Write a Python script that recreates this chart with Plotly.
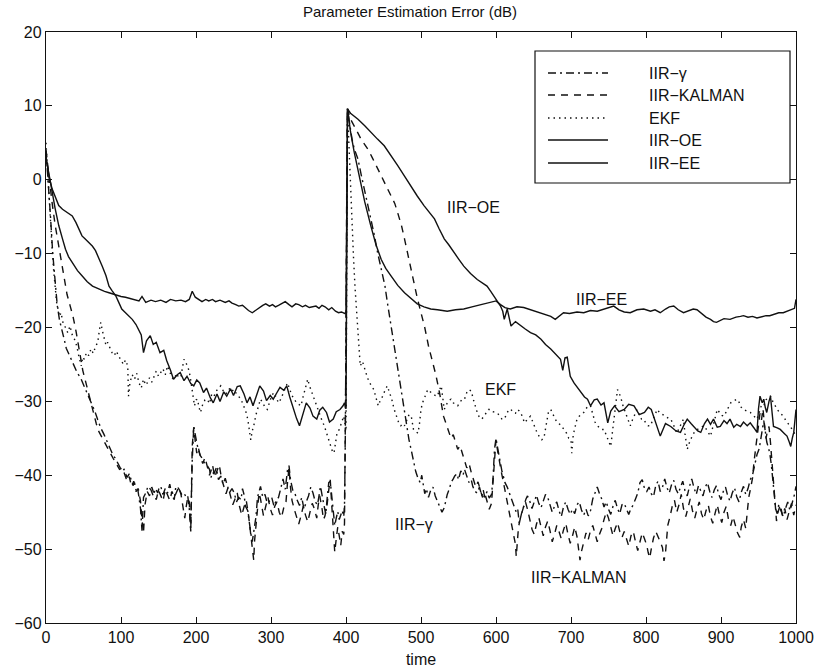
import plotly.graph_objects as go

# ---------------------------------------------------------------------------
# Parameter estimation error (dB) versus time for five adaptive IIR schemes.
# Each series is a list of (time, error_dB) samples.
# ---------------------------------------------------------------------------

iir_gamma = [
    (0, 4.0), (3, 0.0), (6, -5.0), (9, -10.0), (12, -14.0), (15, -17.0), (18, -19.0), (21, -20.5),
    (24, -21.5), (27, -22.8), (30, -23.5), (34, -24.5), (38, -25.5), (42, -26.2), (46, -26.8),
    (49, -27.5), (53, -28.6), (57, -29.5), (61, -30.4), (65, -31.3), (69, -32.5), (73, -33.6),
    (77, -34.4), (81, -35.3), (85, -36.4), (89, -37.2), (93, -37.8), (97, -38.6), (101, -39.4),
    (104, -39.2), (108, -40.3), (111, -39.8), (113, -40.6), (116, -41.4), (118, -41.0), (120, -42.0),
    (122, -41.6), (124, -43.3), (126, -44.5), (128, -47.5), (130, -43.0), (133, -42.4), (136, -41.5),
    (140, -42.0), (143, -42.8), (146, -41.8), (149, -42.4), (151, -41.6), (153, -41.5), (156, -42.6),
    (159, -41.8), (162, -42.4), (165, -41.2), (168, -42.7), (171, -43.3), (173, -41.6), (175, -41.5),
    (178, -42.0), (181, -42.6), (184, -42.4), (187, -43.0), (189, -42.8), (191, -44.5), (193, -47.4),
    (195, -38.0), (197, -33.4), (199, -34.8), (201, -35.6), (203, -36.5), (206, -37.4), (209, -37.8),
    (212, -38.5), (215, -38.7), (218, -39.2), (220, -40.3), (222, -39.6), (224, -39.8), (227, -39.0),
    (230, -40.6), (233, -40.1), (236, -41.2), (239, -40.4), (242, -41.5), (245, -42.3), (248, -41.8),
    (251, -42.4), (254, -43.6), (257, -43.0), (260, -43.3), (262, -41.8), (264, -42.6), (266, -44.2),
    (269, -44.8), (271, -46.5), (273, -47.8), (275, -49.0), (277, -47.4), (280, -45.6), (282, -43.0),
    (284, -42.0), (286, -41.5), (289, -43.0), (292, -42.6), (295, -43.8), (298, -43.5), (301, -43.0),
    (304, -44.2), (307, -43.4), (310, -43.0), (313, -41.8), (316, -40.5), (319, -41.9), (322, -39.3),
    (324, -38.7), (326, -40.6), (329, -42.0), (332, -42.5), (335, -43.4), (338, -44.1), (341, -43.0),
    (344, -44.6), (347, -43.6), (350, -42.8), (353, -41.6), (356, -42.4), (359, -43.6), (362, -44.0),
    (364, -42.8), (366, -41.5), (369, -43.2), (371, -44.4), (373, -45.3), (375, -43.0), (377, -41.0),
    (379, -40.8), (381, -43.0), (383, -45.6), (385, -46.8), (387, -45.8), (389, -44.9), (391, -46.0),
    (393, -45.2), (395, -44.8), (397, -45.6), (398, -44.0), (399, -36.0), (400, -20.0), (401, 0.0),
    (402, 9.6), (405, 7.5), (408, 5.5), (411, 4.2), (414, 3.4), (416, 2.8), (420, 0.8), (425, -1.5),
    (430, -3.6), (434, -5.3), (438, -7.6), (442, -9.8), (446, -11.6), (449, -13.0), (452, -14.4),
    (455, -16.5), (458, -18.5), (461, -20.4), (463, -21.6), (466, -23.5), (469, -25.5), (472, -27.6),
    (475, -29.5), (478, -31.3), (481, -33.4), (484, -35.2), (487, -36.6), (490, -38.0), (493, -39.5),
    (496, -40.4), (499, -41.0), (501, -40.0), (503, -41.2), (505, -42.5), (507, -41.8), (510, -43.0),
    (513, -42.0), (516, -41.6), (519, -42.8), (522, -43.6), (525, -44.2), (528, -45.0), (531, -44.4),
    (533, -43.5), (535, -42.6), (538, -41.8), (540, -41.0), (543, -40.5), (545, -40.1), (548, -39.8),
    (550, -40.6), (553, -39.4), (556, -40.0), (558, -39.2), (561, -40.2), (564, -41.0), (567, -40.6),
    (569, -41.5), (572, -42.2), (575, -42.4), (578, -41.6), (581, -42.8), (583, -42.0), (585, -43.0),
    (588, -42.2), (591, -43.1), (594, -42.6), (596, -40.5), (598, -36.5), (600, -35.0), (602, -36.2),
    (604, -37.4), (606, -38.2), (608, -39.5), (610, -40.2), (612, -41.0), (615, -41.6), (618, -42.4),
    (621, -43.4), (624, -44.2), (627, -45.0), (629, -44.6), (631, -46.5), (634, -45.2), (637, -44.0),
    (640, -43.2), (642, -42.8), (645, -43.5), (648, -44.5), (651, -43.6), (654, -42.7), (657, -43.8),
    (660, -44.4), (663, -43.5), (666, -42.6), (669, -43.0), (672, -44.0), (675, -45.0), (678, -44.2),
    (681, -43.6), (684, -44.8), (687, -45.6), (690, -44.3), (693, -43.6), (696, -44.6), (699, -45.3),
    (702, -44.6), (705, -45.2), (708, -44.0), (711, -43.6), (714, -44.7), (717, -45.4), (720, -44.6),
    (723, -45.5), (726, -44.8), (729, -43.2), (732, -42.4), (735, -41.6), (738, -42.5), (741, -43.2),
    (744, -44.3), (747, -43.6), (750, -44.6), (753, -45.3), (756, -44.2), (759, -43.4), (762, -44.5),
    (765, -45.2), (768, -44.0), (771, -43.8), (774, -44.6), (777, -45.3), (780, -44.5), (783, -44.0),
    (786, -43.2), (789, -42.4), (792, -41.0), (795, -40.6), (798, -41.8), (801, -42.2), (804, -41.6),
    (807, -42.5), (810, -42.9), (813, -41.4), (816, -40.8), (819, -42.2), (822, -41.6), (825, -40.5),
    (828, -41.7), (831, -42.4), (834, -41.3), (837, -40.7), (840, -41.9), (843, -42.5), (846, -41.6),
    (849, -40.8), (852, -42.1), (855, -42.8), (858, -41.5), (861, -40.5), (864, -41.7), (867, -42.6),
    (870, -41.4), (873, -42.0), (876, -42.8), (879, -41.6), (882, -41.0), (885, -42.2), (888, -43.0),
    (891, -42.0), (894, -41.4), (897, -42.6), (900, -43.3), (903, -42.2), (906, -41.6), (909, -42.8),
    (912, -43.5), (915, -42.4), (918, -41.7), (921, -42.9), (924, -43.6), (927, -42.3), (930, -41.5),
    (933, -42.6), (936, -41.8), (939, -40.6), (942, -40.0), (945, -38.6), (948, -37.2), (951, -36.4),
    (953, -35.0), (955, -33.5), (957, -32.6), (959, -34.0), (961, -35.5), (963, -36.2), (965, -37.0),
    (967, -38.5), (969, -40.5), (971, -43.0), (973, -44.6), (975, -45.2), (977, -44.0), (980, -44.8),
    (983, -45.6), (986, -44.5), (989, -43.6), (992, -44.8), (995, -43.8), (998, -42.6), (1000, -41.5),
]

iir_kalman = [
    (0, 4.0), (4, 0.0), (8, -3.0), (12, -6.0), (16, -8.5), (20, -11.0), (24, -13.5), (28, -15.5),
    (32, -17.0), (36, -18.5), (40, -20.5), (43, -22.5), (46, -24.0), (49, -25.8), (52, -27.0),
    (55, -28.6), (58, -29.8), (61, -31.0), (64, -32.0), (67, -33.0), (70, -34.0), (74, -34.8),
    (78, -35.6), (82, -36.2), (86, -37.0), (90, -37.8), (94, -38.5), (98, -39.2), (102, -39.0),
    (105, -40.0), (108, -40.8), (111, -40.2), (114, -41.5), (117, -40.8), (120, -42.2), (123, -41.8),
    (126, -43.5), (128, -46.0), (130, -47.8), (132, -44.0), (135, -42.2), (138, -42.8), (141, -41.6),
    (144, -42.5), (147, -43.3), (150, -42.0), (153, -42.8), (156, -43.5), (159, -41.9), (162, -42.7),
    (165, -43.4), (168, -42.2), (171, -43.0), (174, -42.3), (177, -41.6), (180, -42.6), (183, -44.6),
    (185, -45.8), (187, -44.2), (189, -43.0), (191, -43.6), (193, -47.6), (195, -36.0), (197, -33.5),
    (199, -35.4), (201, -37.0), (203, -36.2), (206, -37.6), (209, -38.4), (212, -37.6), (215, -38.8),
    (218, -40.0), (220, -39.4), (222, -38.6), (225, -40.2), (228, -39.3), (231, -38.6), (234, -40.4),
    (237, -41.4), (240, -42.5), (243, -41.6), (246, -43.0), (249, -44.0), (252, -43.2), (255, -42.4),
    (258, -44.2), (261, -45.4), (264, -44.3), (267, -43.4), (270, -45.4), (272, -47.0), (274, -48.5),
    (276, -50.2), (277, -51.5), (278, -49.0), (280, -46.4), (282, -44.0), (284, -42.4), (286, -43.2),
    (288, -44.6), (290, -45.5), (293, -44.2), (296, -43.0), (299, -44.5), (302, -45.4), (305, -44.2),
    (308, -43.6), (311, -45.0), (314, -45.7), (317, -44.4), (320, -43.6), (322, -41.0), (324, -39.0),
    (326, -41.6), (328, -43.4), (331, -44.6), (334, -45.8), (337, -46.6), (340, -45.5), (343, -44.2),
    (346, -45.4), (349, -46.3), (352, -45.0), (355, -43.8), (358, -44.6), (361, -45.8), (363, -44.0),
    (365, -42.8), (368, -44.5), (370, -46.0), (372, -45.5), (375, -43.8), (377, -42.0), (379, -40.6),
    (381, -44.0), (383, -48.0), (385, -50.4), (387, -48.6), (389, -47.0), (391, -48.2), (393, -49.5),
    (395, -47.6), (397, -48.0), (398, -46.5), (399, -38.0), (400, -22.0), (401, 0.0), (402, 9.6),
    (406, 8.2), (410, 7.5), (415, 6.5), (420, 5.5), (425, 4.7), (430, 4.0), (435, 3.0), (440, 2.0),
    (445, 1.0), (450, 0.0), (455, -1.0), (460, -2.0), (465, -3.2), (469, -4.5), (474, -6.2),
    (478, -8.0), (482, -10.0), (486, -12.0), (490, -14.0), (495, -16.0), (500, -18.0), (505, -20.0),
    (510, -22.5), (515, -24.5), (520, -26.5), (525, -29.0), (530, -32.0), (535, -33.5), (540, -35.0),
    (543, -34.5), (546, -35.5), (549, -36.5), (552, -36.0), (555, -37.2), (558, -38.0), (561, -39.0),
    (564, -38.4), (567, -39.6), (570, -40.8), (573, -41.6), (576, -40.9), (579, -42.0), (582, -43.0),
    (585, -42.4), (588, -43.5), (591, -44.6), (594, -43.8), (596, -41.0), (598, -37.5), (600, -35.2),
    (602, -36.6), (604, -38.0), (607, -39.5), (610, -41.0), (613, -42.5), (616, -44.0), (619, -45.6),
    (622, -47.0), (624, -48.2), (626, -49.4), (627, -51.0), (628, -49.0), (630, -47.0), (633, -45.6),
    (636, -44.4), (639, -43.5), (642, -44.6), (645, -46.0), (648, -47.3), (651, -48.0), (654, -46.6),
    (657, -45.7), (660, -47.0), (663, -48.2), (666, -47.0), (669, -46.2), (672, -47.5), (675, -49.0),
    (678, -48.0), (681, -46.8), (684, -47.6), (687, -48.6), (690, -47.4), (693, -46.5), (696, -48.0),
    (699, -49.2), (702, -48.2), (705, -47.0), (708, -48.3), (710, -50.2), (712, -51.5), (714, -50.3),
    (717, -48.8), (720, -47.8), (723, -48.7), (726, -47.5), (729, -46.8), (732, -48.0), (735, -49.0),
    (738, -48.0), (741, -47.2), (744, -46.0), (747, -45.0), (750, -45.8), (753, -47.0), (756, -48.2),
    (759, -47.2), (762, -46.4), (765, -47.6), (768, -48.4), (771, -47.6), (774, -48.8), (777, -49.6),
    (780, -48.2), (783, -47.6), (786, -49.0), (789, -50.2), (792, -49.0), (795, -47.8), (798, -48.6),
    (801, -49.5), (803, -50.5), (805, -51.2), (807, -50.0), (810, -48.5), (813, -47.6), (816, -48.2),
    (819, -49.0), (822, -49.8), (824, -51.6), (826, -50.5), (829, -46.8), (832, -45.6), (835, -44.2),
    (838, -43.4), (841, -45.0), (844, -44.0), (847, -42.6), (850, -44.5), (853, -45.6), (856, -44.4),
    (859, -43.2), (862, -44.8), (865, -45.8), (868, -44.6), (871, -43.6), (874, -45.2), (877, -46.0),
    (880, -44.8), (883, -44.0), (886, -45.6), (889, -46.5), (892, -45.2), (895, -44.0), (898, -45.4),
    (901, -46.4), (904, -45.0), (907, -44.2), (910, -46.0), (913, -46.8), (916, -45.6), (919, -46.6),
    (922, -47.8), (925, -48.4), (927, -47.0), (930, -46.0), (933, -47.2), (935, -45.0), (937, -43.0),
    (940, -41.5), (942, -40.4), (944, -38.2), (946, -36.5), (948, -35.2), (950, -33.0), (952, -31.6),
    (954, -32.5), (956, -31.0), (958, -33.2), (960, -35.0), (962, -34.0), (964, -33.4), (966, -35.6),
    (968, -38.0), (970, -41.5), (972, -44.0), (974, -46.2), (976, -45.0), (979, -44.0), (982, -45.5),
    (985, -44.5), (988, -46.0), (991, -45.0), (994, -43.8), (997, -45.4), (1000, -44.0),
]

ekf = [
    (0, 5.0), (2, 1.0), (4, -3.0), (6, -6.0), (8, -9.0), (10, -12.0), (12, -14.5), (14, -16.5),
    (16, -17.5), (18, -18.5), (20, -18.0), (23, -19.5), (26, -20.0), (29, -20.7), (32, -19.8),
    (35, -21.0), (38, -21.6), (41, -22.5), (44, -24.0), (47, -25.2), (49, -24.0), (51, -24.3),
    (54, -23.4), (57, -23.8), (60, -22.9), (63, -23.5), (66, -22.6), (69, -22.0), (71, -20.5),
    (73, -19.3), (76, -20.8), (78, -21.6), (80, -22.4), (82, -22.0), (85, -22.8), (88, -23.4),
    (91, -23.8), (94, -23.2), (97, -24.0), (100, -24.3), (103, -25.0), (106, -24.4), (109, -25.2),
    (110, -29.3), (112, -27.4), (115, -26.4), (118, -27.0), (121, -26.2), (124, -27.5), (127, -28.2),
    (130, -27.0), (133, -27.8), (135, -27.5), (138, -26.8), (141, -27.4), (144, -26.6), (147, -25.9),
    (150, -26.6), (153, -26.1), (156, -25.6), (159, -26.4), (162, -25.2), (165, -26.0), (168, -26.8),
    (171, -27.0), (174, -26.2), (177, -26.8), (180, -26.6), (182, -25.4), (184, -24.3), (187, -24.9),
    (189, -25.2), (192, -26.5), (195, -28.4), (198, -30.6), (200, -29.8), (202, -29.7), (204, -30.8),
    (206, -31.5), (209, -30.4), (212, -29.8), (215, -29.7), (218, -30.3), (221, -29.0), (224, -29.3),
    (227, -28.6), (230, -28.2), (233, -27.9), (236, -28.5), (239, -29.0), (242, -28.8), (245, -28.2),
    (248, -28.6), (251, -28.4), (254, -29.0), (257, -29.4), (260, -29.7), (263, -30.5), (266, -31.2),
    (269, -32.4), (271, -33.8), (273, -35.2), (275, -34.0), (277, -33.3), (280, -31.8), (283, -30.6),
    (286, -29.7), (289, -30.2), (292, -30.8), (295, -31.1), (298, -30.0), (301, -29.2), (304, -28.8),
    (307, -29.5), (310, -30.2), (313, -29.7), (316, -28.9), (319, -28.2), (322, -27.5), (325, -28.4),
    (328, -29.2), (331, -29.7), (334, -30.2), (337, -30.4), (340, -30.6), (343, -29.3), (346, -28.0),
    (349, -27.0), (351, -27.8), (353, -28.4), (356, -29.2), (359, -30.2), (362, -31.1), (365, -31.8),
    (368, -32.6), (371, -33.3), (374, -34.2), (377, -35.3), (380, -36.1), (382, -36.8), (384, -37.0),
    (386, -35.6), (388, -34.3), (391, -33.8), (393, -33.3), (395, -32.6), (397, -32.0), (399, -33.0),
    (400, -34.0), (402, 9.6), (404, 4.0), (406, -1.0), (408, -6.0), (410, -10.5), (412, -14.5),
    (414, -18.0), (416, -21.0), (419, -25.2), (422, -24.6), (425, -25.8), (428, -26.6), (431, -27.4),
    (434, -28.0), (437, -28.4), (440, -29.5), (443, -30.6), (446, -29.8), (449, -29.3), (452, -28.5),
    (455, -27.9), (458, -28.8), (461, -29.7), (464, -31.0), (467, -32.0), (470, -32.8), (473, -33.3),
    (476, -33.0), (478, -33.3), (481, -32.4), (484, -31.8), (487, -32.0), (490, -33.8), (493, -34.1),
    (496, -34.3), (498, -33.0), (500, -31.1), (502, -30.2), (504, -29.7), (507, -28.9), (509, -28.4),
    (511, -28.6), (513, -28.8), (516, -29.0), (519, -29.2), (522, -29.3), (524, -28.6), (527, -27.9),
    (529, -29.5), (531, -31.1), (534, -30.4), (537, -29.9), (540, -29.7), (543, -30.2), (546, -30.4),
    (549, -30.6), (552, -30.1), (555, -29.7), (558, -29.7), (561, -28.8), (564, -28.4), (567, -28.6),
    (570, -29.8), (573, -31.0), (575, -31.5), (578, -32.2), (581, -32.4), (584, -32.0), (587, -31.5),
    (590, -31.1), (593, -31.1), (596, -31.4), (599, -31.5), (602, -31.6), (605, -32.0), (608, -32.4),
    (611, -32.4), (614, -31.8), (617, -31.1), (620, -31.1), (623, -31.5), (626, -31.6), (629, -31.1),
    (632, -31.4), (635, -32.0), (638, -32.9), (641, -32.5), (644, -32.2), (646, -32.0), (649, -32.8),
    (652, -33.6), (655, -34.3), (658, -34.8), (661, -35.2), (664, -34.9), (667, -33.2), (670, -31.4),
    (673, -31.1), (676, -31.8), (679, -32.4), (682, -32.9), (685, -33.1), (688, -33.5), (691, -33.8),
    (694, -34.3), (697, -35.0), (700, -35.2), (701, -37.0), (703, -34.5), (706, -33.0), (708, -32.4),
    (711, -32.0), (714, -31.7), (717, -31.5), (720, -31.0), (723, -30.6), (726, -30.6), (729, -31.9),
    (732, -32.8), (735, -33.3), (738, -33.5), (741, -33.8), (744, -33.8), (747, -34.6), (750, -35.4),
    (753, -36.1), (756, -33.5), (759, -30.5), (762, -28.4), (764, -28.9), (766, -29.3), (769, -30.5),
    (771, -31.1), (774, -32.0), (777, -32.6), (779, -33.3), (782, -32.5), (785, -31.8), (788, -31.1),
    (791, -31.8), (794, -32.4), (797, -32.4), (800, -33.0), (803, -33.3), (806, -33.3), (809, -32.5),
    (812, -31.7), (815, -31.1), (818, -31.5), (821, -31.7), (824, -32.0), (827, -32.1), (830, -32.3),
    (833, -32.4), (836, -33.0), (839, -33.7), (841, -34.3), (844, -33.6), (847, -32.9), (850, -32.4),
    (852, -34.4), (855, -36.5), (857, -35.8), (859, -35.2), (862, -34.6), (865, -34.1), (868, -33.8),
    (871, -33.6), (874, -33.5), (877, -33.3), (880, -33.7), (883, -34.2), (886, -34.7), (889, -33.5),
    (892, -32.2), (895, -31.1), (898, -31.5), (901, -31.9), (904, -32.0), (907, -31.4), (910, -30.8),
    (913, -30.2), (916, -30.0), (919, -29.8), (921, -29.7), (924, -30.1), (927, -30.8), (930, -31.1),
    (933, -31.3), (936, -31.4), (939, -31.5), (942, -31.8), (945, -32.2), (948, -32.4), (951, -31.5),
    (954, -30.5), (957, -30.6), (960, -29.8), (963, -29.4), (966, -29.3), (969, -30.0), (972, -30.6),
    (975, -31.1), (978, -31.5), (981, -31.8), (983, -32.0), (986, -32.5), (989, -32.9), (992, -33.3),
    (995, -33.8), (998, -34.3), (1000, -34.5),
]

iir_oe = [
    (0, 3.0), (4, 0.5), (8, -1.2), (12, -2.2), (17, -3.5), (22, -4.0), (28, -4.4), (35, -4.9),
    (40, -5.8), (44, -6.8), (48, -7.6), (52, -8.0), (56, -8.4), (62, -9.0), (66, -9.6), (70, -10.5),
    (75, -11.7), (80, -13.0), (84, -14.4), (88, -15.0), (93, -15.7), (97, -16.6), (101, -17.5),
    (106, -18.0), (110, -18.4), (115, -18.9), (120, -19.6), (124, -20.3), (127, -21.0), (130, -23.4),
    (134, -21.8), (139, -21.1), (143, -22.3), (147, -22.0), (152, -23.4), (157, -23.1), (161, -24.5),
    (166, -25.8), (170, -27.0), (175, -26.4), (179, -26.1), (184, -27.2), (188, -26.6), (193, -27.6),
    (197, -27.9), (201, -27.1), (205, -27.5), (210, -28.8), (214, -28.2), (219, -29.5), (223, -30.2),
    (228, -29.0), (232, -30.0), (237, -28.7), (241, -29.3), (246, -28.3), (250, -29.2), (255, -28.0),
    (259, -27.9), (264, -29.0), (268, -30.2), (272, -29.4), (276, -30.6), (281, -29.1), (285, -27.9),
    (290, -28.6), (294, -29.9), (299, -29.2), (303, -29.7), (308, -28.8), (312, -28.1), (317, -28.5),
    (321, -27.9), (325, -29.4), (330, -31.1), (334, -32.3), (338, -33.3), (343, -31.6), (347, -30.2),
    (352, -30.9), (356, -32.0), (361, -32.4), (365, -31.2), (369, -30.8), (374, -31.5), (378, -32.8),
    (383, -32.4), (387, -31.4), (392, -31.1), (396, -30.6), (398, -30.2), (400, -31.0), (402, 9.6),
    (406, 9.0), (411, 8.6), (416, 8.2), (425, 7.3), (433, 6.4), (442, 5.5), (451, 4.6), (460, 3.3),
    (469, 1.9), (478, 0.5), (486, -0.8), (495, -2.2), (504, -3.5), (511, -4.4), (518, -5.3),
    (524, -6.6), (531, -8.0), (537, -8.8), (544, -9.9), (550, -10.7), (557, -11.7), (566, -12.7),
    (575, -13.5), (581, -13.9), (588, -14.4), (593, -15.1), (597, -15.7), (602, -16.4), (606, -17.1),
    (609, -17.8), (611, -18.9), (615, -17.5), (620, -19.8), (626, -19.2), (633, -19.8), (639, -20.2),
    (646, -20.7), (653, -21.0), (660, -21.6), (666, -22.3), (673, -22.9), (680, -23.6), (686, -24.3),
    (689, -25.8), (692, -24.1), (695, -24.0), (699, -26.6), (704, -27.5), (709, -28.2), (713, -28.8),
    (718, -29.4), (722, -29.7), (726, -30.6), (731, -29.8), (735, -29.7), (740, -30.5), (744, -30.2),
    (749, -32.9), (753, -31.3), (758, -30.6), (764, -31.4), (771, -31.1), (777, -30.4), (784, -30.6),
    (791, -31.8), (798, -31.5), (803, -30.8), (807, -31.1), (812, -32.6), (816, -33.8), (819, -34.7),
    (826, -33.0), (833, -33.4), (840, -34.0), (846, -34.2), (851, -33.1), (855, -32.4), (860, -33.0),
    (864, -33.4), (869, -34.0), (873, -34.2), (878, -33.0), (882, -32.4), (886, -33.1), (890, -32.4),
    (895, -33.5), (899, -33.4), (904, -32.6), (908, -33.0), (912, -32.4), (917, -33.5), (921, -33.1),
    (926, -33.4), (930, -32.8), (935, -33.3), (939, -32.9), (944, -33.6), (948, -34.2), (950, -31.0),
    (952, -29.3), (955, -30.2), (957, -29.7), (959, -30.8), (961, -31.5), (964, -30.0), (966, -29.3),
    (968, -31.4), (970, -33.4), (975, -33.6), (979, -33.8), (984, -34.3), (988, -34.7), (991, -35.5),
    (993, -36.1), (995, -35.0), (997, -34.2), (1000, -31.1),
]

iir_ee = [
    (0, 3.0), (4, 0.5), (8, -1.5), (12, -3.8), (17, -6.2), (22, -8.0), (26, -9.4), (30, -10.4),
    (35, -11.2), (42, -12.3), (48, -13.0), (55, -13.8), (62, -14.4), (70, -14.8), (78, -15.1),
    (84, -15.3), (92, -15.6), (100, -15.8), (106, -15.9), (115, -16.1), (124, -16.4), (128, -15.8),
    (133, -16.6), (140, -16.3), (146, -16.5), (153, -16.3), (160, -16.6), (166, -16.2), (173, -16.4),
    (180, -16.3), (186, -16.5), (191, -16.2), (195, -15.1), (199, -15.9), (204, -16.3), (208, -16.5),
    (213, -16.2), (217, -16.4), (222, -16.2), (226, -16.5), (232, -16.3), (239, -16.6), (244, -16.4),
    (248, -16.7), (253, -16.9), (257, -17.1), (262, -17.0), (266, -17.4), (270, -17.7), (275, -18.0),
    (280, -17.6), (284, -17.3), (289, -17.0), (293, -16.8), (298, -17.1), (302, -16.9), (306, -17.2),
    (310, -17.0), (315, -16.7), (319, -16.5), (324, -16.9), (328, -17.2), (333, -16.8), (337, -16.9),
    (342, -17.2), (346, -17.0), (351, -17.3), (355, -17.2), (360, -17.1), (364, -17.4), (368, -17.0),
    (372, -17.2), (377, -17.6), (381, -17.3), (386, -17.8), (390, -18.0), (394, -17.9), (398, -18.1),
    (400, -18.0), (402, 9.6), (406, 6.5), (411, 3.7), (416, 1.2), (420, -0.8), (425, -3.0),
    (433, -6.2), (440, -8.8), (447, -10.8), (453, -12.0), (460, -13.0), (469, -14.3), (478, -15.3),
    (486, -16.0), (495, -16.8), (504, -17.2), (513, -17.5), (522, -17.6), (535, -17.8), (546, -17.6),
    (557, -17.5), (568, -17.2), (579, -16.9), (586, -16.7), (593, -16.6), (600, -16.4), (606, -16.9),
    (612, -17.3), (619, -17.5), (628, -17.2), (637, -17.3), (646, -17.6), (655, -18.0), (664, -18.2),
    (673, -18.5), (679, -18.9), (685, -18.4), (690, -18.0), (698, -18.1), (708, -17.9), (717, -18.0),
    (726, -17.7), (735, -17.8), (744, -17.5), (750, -17.3), (757, -17.1), (764, -17.6), (771, -17.9),
    (779, -18.0), (788, -17.6), (797, -17.5), (806, -17.8), (812, -17.6), (819, -18.0), (826, -17.5),
    (831, -17.2), (837, -17.1), (843, -17.6), (850, -18.0), (857, -17.7), (863, -17.5), (868, -17.6),
    (874, -18.1), (880, -18.6), (886, -18.9), (890, -19.2), (894, -19.3), (899, -19.0), (904, -18.8),
    (912, -18.9), (920, -18.6), (926, -18.5), (930, -18.4), (936, -18.6), (942, -18.5), (948, -18.7),
    (954, -18.5), (960, -18.4), (965, -18.4), (971, -18.2), (977, -18.0), (983, -18.0), (989, -17.8),
    (994, -17.6), (998, -17.4), (1000, -16.2),
]

# Series names, in legend order, with their dash patterns
series_names = ["IIR−γ", "IIR−KALMAN", "EKF", "IIR−OE", "IIR−EE"]
series_data = [iir_gamma, iir_kalman, ekf, iir_oe, iir_ee]
series_dash = ["8px,4px,2px,4px", "7px,6px", "1.5px,4px", "solid", "solid"]

# Curve labels placed inside the axes: (text, time, dB)
curve_labels = [
    ("IIR−OE", 570, -3.7),
    ("IIR−EE", 741, -16.2),
    ("EKF", 606, -28.4),
    ("IIR−γ", 490, -46.7),
    ("IIR−KALMAN", 711, -53.9),
]

x_ticks = list(range(0, 1001, 100))
y_ticks = list(range(-60, 21, 10))

# ---------------------------------------------------------------------------
FONT = "Arial, 'Liberation Sans', Helvetica, sans-serif"
INK = "#111111"
W, H = 814, 668
L, R, T, B = 46, 18, 32, 45          # plot-area margins in px
PW, PH = W - L - R, H - T - B


def px_x(px):
    """page x pixel -> paper x"""
    return (px - L) / PW


def px_y(py):
    """page y pixel -> paper y"""
    return 1 - (py - T) / PH


fig = go.Figure()

for name, pts, dash in zip(series_names, series_data, series_dash):
    t = [p[0] for p in pts]
    db = [p[1] for p in pts]
    fig.add_trace(go.Scatter(
        x=t, y=db, mode="lines", name=name,
        line=dict(color=INK, width=1.4, dash=dash),
        showlegend=False,
    ))

# Boxed legend in the upper right corner (drawn with shapes and text)
shapes = [dict(type="rect", xref="paper", yref="paper",
               x0=px_x(535), x1=px_x(790), y0=px_y(183), y1=px_y(51),
               line=dict(color=INK, width=1.2), fillcolor="white", layer="above")]
annotations = []
row_py = [73, 95, 118, 140, 163]
for name, dash, py in zip(series_names, series_dash, row_py):
    shapes.append(dict(type="line", xref="paper", yref="paper",
                       x0=px_x(548), x1=px_x(608), y0=px_y(py), y1=px_y(py),
                       line=dict(color=INK, width=1.4, dash=dash), layer="above"))
    annotations.append(dict(text=name, xref="paper", yref="paper",
                            x=px_x(647), y=px_y(py), xanchor="left", yanchor="middle",
                            showarrow=False, font=dict(family=FONT, size=16, color=INK)))

for text, t, db in curve_labels:
    annotations.append(dict(text=text, x=t, y=db, xref="x", yref="y",
                            xanchor="center", yanchor="middle", showarrow=False,
                            font=dict(family=FONT, size=16, color=INK)))

axis_common = dict(
    showline=True, linecolor=INK, linewidth=1.4, mirror="ticks",
    ticks="inside", ticklen=6, tickwidth=1, tickcolor=INK,
    showgrid=False, zeroline=False, automargin=False,
    tickfont=dict(family=FONT, size=16, color=INK),
)

fig.update_layout(
    width=W, height=H,
    margin=dict(l=L, r=R, t=T, b=B, autoexpand=False),
    paper_bgcolor="white", plot_bgcolor="white",
    title=dict(text="Parameter Estimation Error (dB)",
               x=px_x(410), xref="paper", xanchor="center",
               y=1 - 12 / H, yref="container", yanchor="middle",
               font=dict(family=FONT, size=15, color=INK)),
    xaxis=dict(range=[0, 1000], tickvals=x_ticks,
               title=dict(text="time", standoff=8,
                          font=dict(family=FONT, size=16, color=INK)),
               **axis_common),
    yaxis=dict(range=[-60, 20], tickvals=y_ticks, **axis_common),
    shapes=shapes,
    annotations=annotations,
    showlegend=False,
)

fig.write_html("out.html")
